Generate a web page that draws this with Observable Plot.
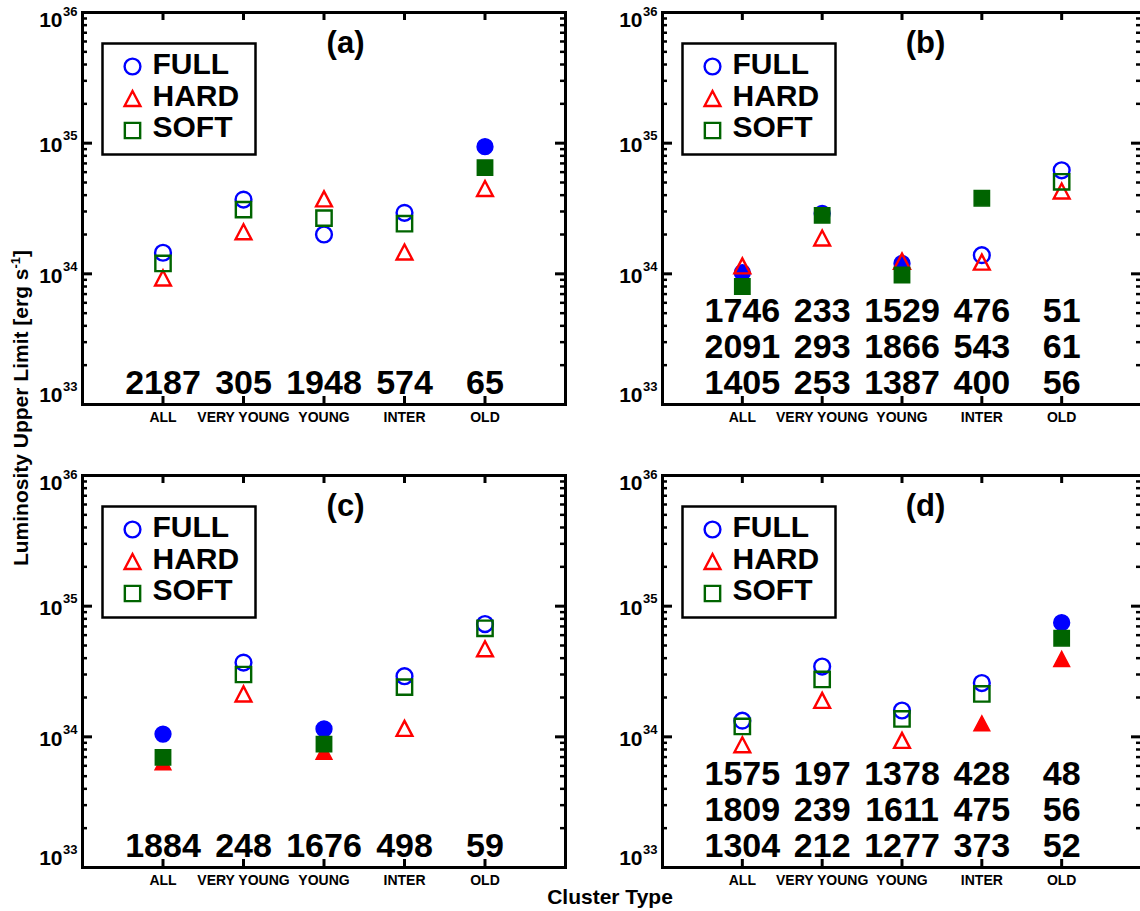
<!DOCTYPE html>
<html><head><meta charset="utf-8">
<script src="https://cdn.jsdelivr.net/npm/d3@7"></script>
<script src="https://cdn.jsdelivr.net/npm/@observablehq/plot@0.6"></script>
<style>
html,body{margin:0;padding:0;background:#fff;overflow:hidden;}
#fig{position:relative;width:1140px;height:911px;overflow:hidden;font-family:"Liberation Sans",Arial,Helvetica,sans-serif;}
.panel{position:absolute;}
#xlabel{position:absolute;left:0;width:1220px;top:885px;text-align:center;font-weight:bold;font-size:21px;}
#ylabel{position:absolute;left:0;top:0;}
</style></head><body><div id="fig"></div>
<script>
// ---------- data ----------
const categories = ["ALL", "VERY YOUNG", "YOUNG", "INTER", "OLD"];
const bands = ["FULL", "HARD", "SOFT"];
const yTicks = [1e33, 1e34, 1e35, 1e36];
const yTickExp = ["33", "34", "35", "36"];

// panel (a)
const fullA = [1.45e34, 3.7e34, 2.0e34, 2.93e34, 9.4e34];
const hardA = [9.3e33, 2.1e34, 3.75e34, 1.47e34, 4.5e34];
const softA = [1.2e34, 3.1e34, 2.67e34, 2.42e34, 6.5e34];
const fullAFilled = [0, 0, 0, 0, 1];
const hardAFilled = [0, 0, 0, 0, 0];
const softAFilled = [0, 0, 0, 0, 1];
const countsA = [[2187, 305, 1948, 574, 65]];

// panel (b)
const fullB = [1.02e34, 2.9e34, 1.2e34, 1.39e34, 6.2e34];
const hardB = [1.15e34, 1.88e34, 1.25e34, 1.23e34, 4.3e34];
const softB = [8.0e33, 2.8e34, 9.8e33, 3.79e34, 5.06e34];
const fullBFilled = [1, 1, 1, 0, 0];
const hardBFilled = [0, 0, 0, 0, 0];
const softBFilled = [1, 1, 1, 1, 0];
const countsB = [[1746, 233, 1529, 476, 51], [2091, 293, 1866, 543, 61], [1405, 253, 1387, 400, 56]];

// panel (c)
const fullC = [1.05e34, 3.7e34, 1.15e34, 2.91e34, 7.3e34];
const hardC = [6.4e33, 2.13e34, 7.7e33, 1.16e34, 4.72e34];
const softC = [6.97e33, 3.0e34, 8.8e33, 2.4e34, 6.77e34];
const fullCFilled = [1, 0, 1, 0, 0];
const hardCFilled = [1, 0, 1, 0, 0];
const softCFilled = [1, 0, 1, 0, 0];
const countsC = [[1884, 248, 1676, 498, 59]];

// panel (d)
const fullD = [1.33e34, 3.45e34, 1.59e34, 2.58e34, 7.48e34];
const hardD = [8.7e33, 1.9e34, 9.4e33, 1.27e34, 3.95e34];
const softD = [1.2e34, 2.75e34, 1.37e34, 2.13e34, 5.68e34];
const fullDFilled = [0, 0, 0, 0, 1];
const hardDFilled = [0, 0, 0, 1, 1];
const softDFilled = [0, 0, 0, 0, 1];
const countsD = [[1575, 197, 1378, 428, 48], [1809, 239, 1611, 475, 56], [1304, 212, 1277, 373, 52]];

// ---------- styling ----------
const colors = {FULL: "#0000ff", HARD: "#ff0000", SOFT: "#006400"};
const FONT = '"Liberation Sans", Arial, Helvetica, sans-serif';

const circleSym = {draw(ctx, size) { const r = Math.sqrt(size / Math.PI); ctx.moveTo(r, 0); ctx.arc(0, 0, r, 0, 2 * Math.PI); ctx.closePath(); }};
const triSym = {draw(ctx, size) { const r = Math.sqrt(size / Math.PI); const h = r * 0.95; ctx.moveTo(0, -h); ctx.lineTo(r, h); ctx.lineTo(-r, h); ctx.closePath(); }};
const sqSym = {draw(ctx, size) { const r = Math.sqrt(size / Math.PI) * 0.97; ctx.moveTo(-r, -r); ctx.lineTo(r, -r); ctx.lineTo(r, r); ctx.lineTo(-r, r); ctx.closePath(); }};
const symbols = {FULL: circleSym, HARD: triSym, SOFT: sqSym};
const R = 7.9;

function buildPanel(cfg) {
  const {tag, series, filled, counts, left, top, marginLeft, frameW} = cfg;
  const mt = 12, mb = 46, mr = 6, H = 450;
  const frameH = H - mt - mb;
  const W = marginLeft + frameW + mr;
  const xs = categories.map((c, i) => i + 1);
  const minors = [];
  for (let e = 33; e < 36; e++) for (let m = 2; m <= 9; m++) minors.push(m * Math.pow(10, e));

  const marks = [];
  // legend box
  marks.push(Plot.frame({stroke: "black", strokeWidth: 2.5, fill: "white",
    insetLeft: 20, insetTop: 31, insetRight: frameW - 173, insetBottom: frameH - 142}));
  // data points
  bands.forEach((b, bi) => {
    const pts = categories.map((c, i) => ({x: i + 1, y: series[bi][i], filled: filled[bi][i]}));
    marks.push(Plot.dot(pts.filter(d => !d.filled), {x: "x", y: "y", r: R, symbol: symbols[b],
      stroke: colors[b], strokeWidth: 2.4, fill: "none"}));
    marks.push(Plot.dot(pts.filter(d => d.filled), {x: "x", y: "y", r: R, symbol: symbols[b],
      stroke: colors[b], strokeWidth: 1.5, fill: colors[b]}));
  });
  // legend entries
  const legY = [54, 86, 118];
  const legTY = [51.5, 83.5, 114.5];
  bands.forEach((b, bi) => {
    marks.push(Plot.dot([b], {frameAnchor: "top-left", dx: 50, dy: legY[bi], r: R, symbol: symbols[b],
      stroke: colors[b], strokeWidth: 2.4, fill: "none"}));
    marks.push(Plot.text([b], {frameAnchor: "top-left", dx: 70, dy: legTY[bi], text: d => d,
      textAnchor: "start", lineAnchor: "middle", fontSize: 30, fontWeight: "bold", fill: "black"}));
  });
  // panel tag
  marks.push(Plot.text([tag], {frameAnchor: "top-left", dx: 263, dy: 31, text: d => d,
    textAnchor: "middle", lineAnchor: "middle", fontSize: 31, fontWeight: "bold", fill: "black"}));
  // counts rows
  const rowDy = counts.length === 1 ? [-21] : [-93, -57, -21];
  counts.forEach((row, ri) => {
    marks.push(Plot.text(row, {x: (d, i) => i + 1, frameAnchor: "bottom", dy: rowDy[ri], text: d => String(d),
      textAnchor: "middle", lineAnchor: "middle", fontSize: 34, fontWeight: "bold", fill: "black"}));
  });
  // x tick labels
  marks.push(Plot.text(categories, {x: (d, i) => i + 1, frameAnchor: "bottom", dy: 13, text: d => d,
    textAnchor: "middle", lineAnchor: "middle", fontSize: 14, fontWeight: "bold", fill: "black"}));
  // ticks
  marks.push(Plot.tickX(xs, {x: d => d, insetTop: frameH - 8, stroke: "black", strokeWidth: 3}));
  marks.push(Plot.tickX(xs, {x: d => d, insetBottom: frameH - 8, stroke: "black", strokeWidth: 3}));
  marks.push(Plot.tickY(yTicks, {y: d => d, insetRight: frameW - 10, stroke: "black", strokeWidth: 3}));
  marks.push(Plot.tickY(yTicks, {y: d => d, insetLeft: frameW - 10, stroke: "black", strokeWidth: 3}));
  marks.push(Plot.tickY(minors, {y: d => d, insetRight: frameW - 5, stroke: "black", strokeWidth: 2.5}));
  marks.push(Plot.tickY(minors, {y: d => d, insetLeft: frameW - 5, stroke: "black", strokeWidth: 2.5}));
  // y tick labels (10 with superscript exponent)
  const labDy = [-9, 2, 2, 8];
  yTicks.forEach((t, ti) => {
    marks.push(Plot.text([t], {y: d => d, frameAnchor: "left", dx: -20, dy: labDy[ti], text: () => "10",
      textAnchor: "end", lineAnchor: "middle", fontSize: 21, fontWeight: "bold", fill: "black"}));
    marks.push(Plot.text([t], {y: d => d, frameAnchor: "left", dx: -5, dy: labDy[ti] - 9, text: () => yTickExp[ti],
      textAnchor: "end", lineAnchor: "middle", fontSize: 13, fontWeight: "bold", fill: "black"}));
  });
  // axes frame
  marks.push(Plot.frame({stroke: "black", strokeWidth: 3}));

  const svg = Plot.plot({
    width: W, height: H,
    marginLeft, marginRight: mr, marginTop: mt, marginBottom: mb,
    x: {type: "linear", domain: [0, 6], axis: null},
    y: {type: "log", domain: [1e33, 1e36], axis: null},
    style: {fontFamily: FONT, background: "white", overflow: "visible"},
    marks
  });
  svg.classList.add("panel");
  svg.style.left = left + "px";
  svg.style.top = top + "px";
  document.getElementById("fig").appendChild(svg);
}

buildPanel({tag: "(a)", series: [fullA, hardA, softA], filled: [fullAFilled, hardAFilled, softAFilled],
  counts: countsA, left: 0, top: 0, marginLeft: 82, frameW: 483});
buildPanel({tag: "(b)", series: [fullB, hardB, softB], filled: [fullBFilled, hardBFilled, softBFilled],
  counts: countsB, left: 570, top: 0, marginLeft: 92, frameW: 479});
buildPanel({tag: "(c)", series: [fullC, hardC, softC], filled: [fullCFilled, hardCFilled, softCFilled],
  counts: countsC, left: 0, top: 463, marginLeft: 82, frameW: 483});
buildPanel({tag: "(d)", series: [fullD, hardD, softD], filled: [fullDFilled, hardDFilled, softDFilled],
  counts: countsD, left: 570, top: 463, marginLeft: 92, frameW: 479});

// axis titles
const fig = document.getElementById("fig");
const xl = document.createElement("div");
xl.id = "xlabel";
xl.textContent = "Cluster Type";
fig.appendChild(xl);

const ns = "http://www.w3.org/2000/svg";
const ysvg = document.createElementNS(ns, "svg");
ysvg.setAttribute("width", "45"); ysvg.setAttribute("height", "911");
ysvg.id = "ylabel";
const yt = document.createElementNS(ns, "text");
yt.setAttribute("transform", "translate(28,408) rotate(-90)");
yt.setAttribute("text-anchor", "middle");
yt.setAttribute("font-family", FONT);
yt.setAttribute("font-weight", "bold");
yt.setAttribute("font-size", "21");
const t1 = document.createElementNS(ns, "tspan"); t1.textContent = "Luminosity Upper Limit [erg s";
const t2 = document.createElementNS(ns, "tspan"); t2.textContent = "-1"; t2.setAttribute("font-size", "13"); t2.setAttribute("dy", "-8");
const t3 = document.createElementNS(ns, "tspan"); t3.textContent = "]"; t3.setAttribute("dy", "8");
yt.appendChild(t1); yt.appendChild(t2); yt.appendChild(t3);
ysvg.appendChild(yt);
fig.appendChild(ysvg);
</script>
</body></html>
